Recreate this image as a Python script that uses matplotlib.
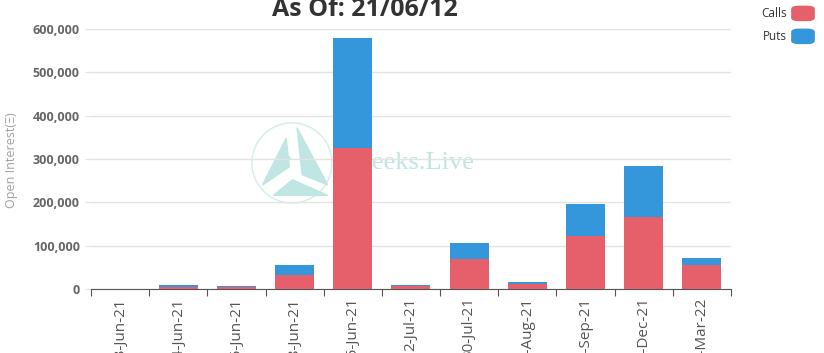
import matplotlib
matplotlib.use("Agg")
from matplotlib import pyplot as plt
from matplotlib.patches import FancyBboxPatch, Ellipse, Polygon
from matplotlib.ticker import FuncFormatter

expiries = ["13-Jun-21", "14-Jun-21", "15-Jun-21", "18-Jun-21", "25-Jun-21", "2-Jul-21",
            "30-Jul-21", "27-Aug-21", "24-Sep-21", "31-Dec-21", "25-Mar-22"]

# open interest per expiry
calls = [300, 4500, 3500, 32000, 325000, 6000, 70000, 11000, 122000, 166000, 55000]
puts = [200, 4000, 3000, 23000, 254000, 3000, 36000, 5500, 74000, 118000, 16000]

call_color = "#e5606a"
put_color = "#3497db"

plt.rcParams['font.family'] = ['Open Sans', 'DejaVu Sans']

fig = plt.figure(figsize=(8.24, 3.53), dpi=100)
ax = fig.add_axes([0.1104, 0.1813, 0.7767, 0.7365])

x = range(len(expiries))
ax.bar(x, calls, width=0.67, color=call_color, zorder=3)
ax.bar(x, puts, width=0.67, bottom=calls, color=put_color, zorder=3)

ax.set_xlim(-0.5, len(expiries) - 0.5)
ax.set_ylim(0, 600000)
ax.set_yticks(range(0, 600001, 100000))
ax.yaxis.set_major_formatter(FuncFormatter(lambda v, p: f"{int(v):,}"))
ax.grid(axis='y', color='#e3e3e3', linewidth=1, zorder=0)

# x ticks at band boundaries, labels centred
ax.set_xticks([i - 0.5 for i in range(len(expiries) + 1)])
ax.set_xticklabels([])
ax.set_xticks(list(x), minor=True)
ax.set_xticklabels(expiries, minor=True, rotation=90, fontsize=11, color='#555555')
ax.tick_params(axis='x', which='minor', length=0, pad=6)
ax.tick_params(axis='x', which='major', length=5, color='#555555', direction='out')
ax.tick_params(axis='y', length=4, color='#e3e3e3', labelsize=9, labelcolor='#666666', pad=4)
for lbl in ax.get_yticklabels():
    lbl.set_fontweight('bold')

for side in ['top', 'right', 'left']:
    ax.spines[side].set_visible(False)
ax.spines['bottom'].set_color('#555555')

fig.text(0.006, 0.547, "Open Interest(Ξ)", rotation=90, fontsize=9, color='#a0a0a0',
         ha='left', va='center')

fig.text(0.443, 0.955, "As Of: 21/06/12", fontsize=18, fontweight='bold', color='#333333',
         ha='center', va='baseline')

# legend
fig.text(0.955, 0.962, "Calls", fontsize=8.5, color='#333333', ha='right', va='center')
fig.text(0.955, 0.897, "Puts", fontsize=8.5, color='#333333', ha='right', va='center')
for yy, c in [(0.942, call_color), (0.877, put_color)]:
    fig.patches.append(FancyBboxPatch((0.961, yy), 0.027, 0.040,
                                      boxstyle="round,pad=0,rounding_size=0.008",
                                      transform=fig.transFigure, color=c))

# faint watermark behind the bars (axes fraction)
wm = '#bfe6e2'
t = ax.transAxes
ax.add_patch(Ellipse((0.314, 0.485), 0.125, 0.308, transform=t, fill=False,
                     edgecolor='#d3eeeb', linewidth=1, zorder=1))
ax.add_patch(Polygon([(0.322, 0.62), (0.37, 0.40), (0.33, 0.44)], closed=True,
                     transform=t, color=wm, zorder=1))
ax.add_patch(Polygon([(0.268, 0.40), (0.305, 0.58), (0.31, 0.47)], closed=True,
                     transform=t, color=wm, zorder=1))
ax.add_patch(Polygon([(0.285, 0.36), (0.37, 0.36), (0.315, 0.42)], closed=True,
                     transform=t, color=wm, zorder=1))
ax.text(0.305, 0.49, "e", fontsize=15, family='Liberation Serif', style='italic', color=wm,
        ha='center', va='center', transform=t, zorder=1)
ax.text(0.397, 0.485, "Greeks.Live", fontsize=19, family='Liberation Serif', color=wm,
        ha='left', va='center', transform=t, zorder=1)

plt.savefig("out.png", dpi=100)
